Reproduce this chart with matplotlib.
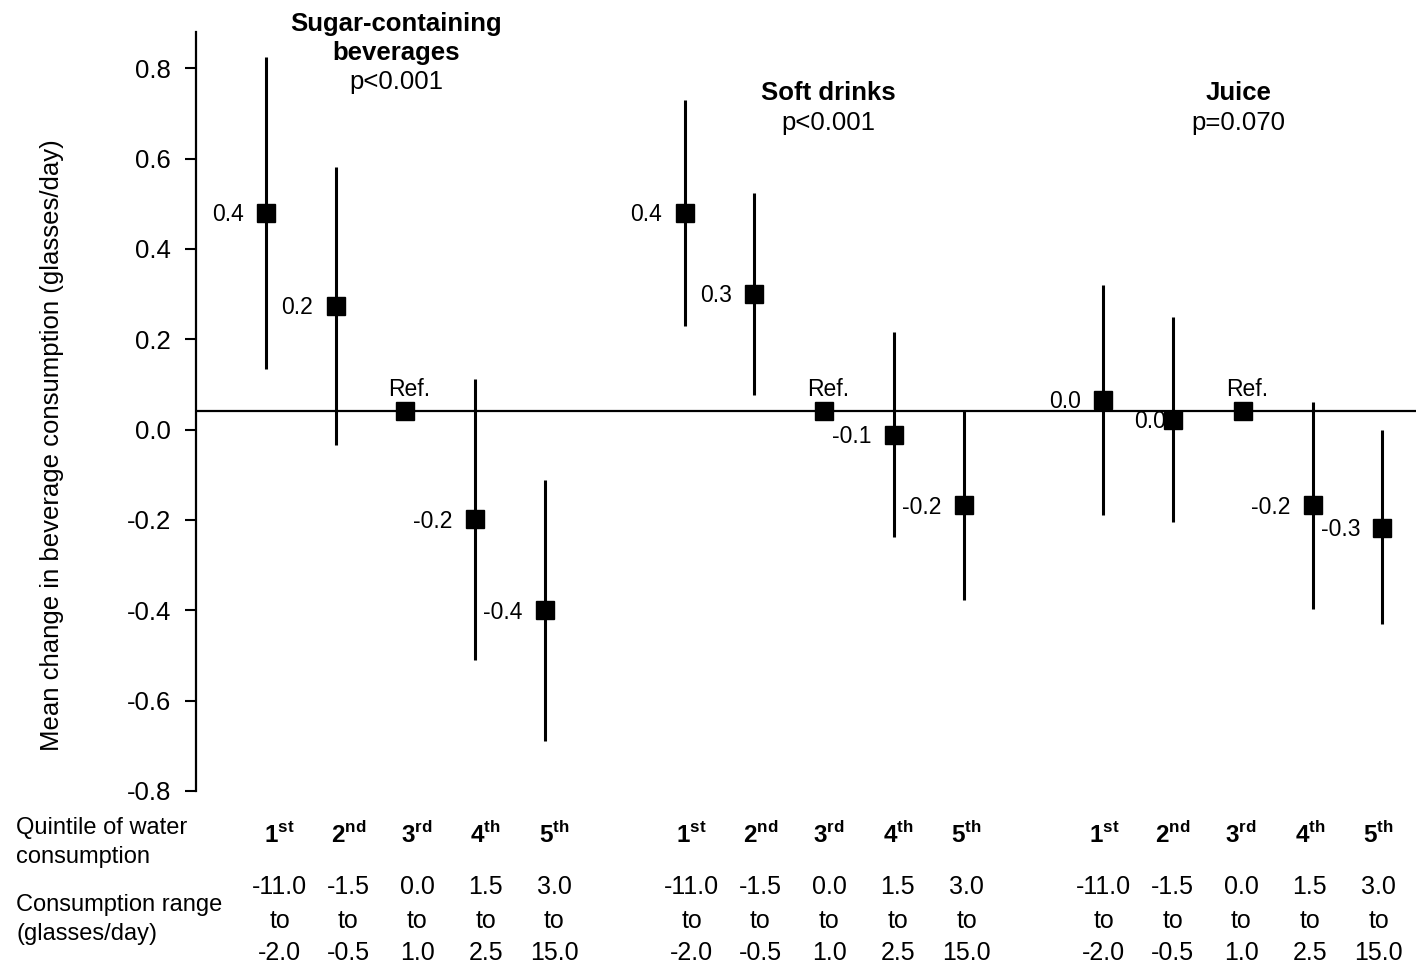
import numpy as np
import matplotlib.pyplot as plt

plt.rcParams['font.family'] = ['Liberation Sans', 'DejaVu Sans']
plt.rcParams['mathtext.fontset'] = 'custom'
plt.rcParams['mathtext.rm'] = 'Liberation Sans'
plt.rcParams['mathtext.bf'] = 'Liberation Sans:bold'

# groups of quintiles
groups = [['Sugar-containing', 'beverages'], ['Soft drinks'], ['Juice']]
pvals = ['p<0.001', 'p<0.001', 'p=0.070']

# plotted positions, ref quintile = 3rd
means = [[0.480, 0.274, 0.042, -0.199, -0.400],
         [0.480, 0.301, 0.042, -0.011, -0.168],
         [0.066, 0.022, 0.042, -0.168, -0.217]]
upper = [[0.825, 0.582, None, 0.113, -0.111],
         [0.730, 0.524, None, 0.215, 0.042],
         [0.321, 0.250, None, 0.062, -0.002]]
lower = [[0.135, -0.035, None, -0.511, -0.690],
         [0.230, 0.077, None, -0.237, -0.378],
         [-0.190, -0.204, None, -0.398, -0.431]]
labels = [['0.4', '0.2', 'Ref.', '-0.2', '-0.4'],
          ['0.4', '0.3', 'Ref.', '-0.1', '-0.2'],
          ['0.0', '0.0', 'Ref.', '-0.2', '-0.3']]
ref_line = 0.042

quintiles = [('1', 'st'), ('2', 'nd'), ('3', 'rd'), ('4', 'th'), ('5', 'th')]
range_lo = ['-11.0', '-1.5', '0.0', '1.5', '3.0']
range_hi = ['-2.0', '-0.5', '1.0', '2.5', '15.0']

W, H = 1416, 964
fig = plt.figure(figsize=(W / 100, H / 100), dpi=100)
ax = fig.add_axes([196 / W, 1 - 791 / H, 1 - 196 / W, (791 - 32) / H])
ax.set_xlim(-1, 16.48)
ax.set_ylim(-0.8, 0.88)


def fy(py):
    # figure pixel row -> figure fraction (small nudge for glyph centring)
    return 1 - (py + 2) / H


for g in range(3):
    xs = np.arange(5) + 6 * g
    for i in range(5):
        x = xs[i]
        m = means[g][i]
        if upper[g][i] is not None:
            ax.plot([x, x], [lower[g][i], upper[g][i]], color='black', lw=2.2,
                    solid_capstyle='butt', zorder=2)
            dx = 0.1 if (g == 2 and i == 1) else 0.32
            ax.text(x - dx, m - 0.004, labels[g][i], ha='right', va='center', fontsize=16.5,
                    zorder=4)
        else:
            ax.text(x + 0.06, m + 0.022, labels[g][i], ha='center', va='bottom', fontsize=16.5)
        ax.plot(x, m, 's', color='black', markersize=12.5, zorder=3)

    # table below the axis
    for i in range(5):
        k = i + 6 * g
        lx = ax.transData.transform((0.2 + 0.984 * k, 0))[0] / W
        fig.text(lx, fy(833), r'$\mathbf{%s}^{\mathbf{%s}}$' % quintiles[i],
                 ha='center', va='center', fontsize=17.5)
        fig.text(lx, fy(885), range_lo[i], ha='center', va='center', fontsize=18)
        fig.text(lx, fy(919), 'to', ha='center', va='center', fontsize=18)
        fig.text(lx, fy(951), range_hi[i], ha='center', va='center', fontsize=18)

# group headings
fig.text(396 / W, fy(22), groups[0][0], ha='center', va='center', fontsize=18.5, fontweight='bold')
fig.text(396 / W, fy(51), groups[0][1], ha='center', va='center', fontsize=18.5, fontweight='bold')
fig.text(396 / W, fy(80), pvals[0], ha='center', va='center', fontsize=18.5)
fig.text(828 / W, fy(91), groups[1][0], ha='center', va='center', fontsize=18.5, fontweight='bold')
fig.text(828 / W, fy(121), pvals[1], ha='center', va='center', fontsize=18.5)
fig.text(1238 / W, fy(91), groups[2][0], ha='center', va='center', fontsize=18.5, fontweight='bold')
fig.text(1238 / W, fy(121), pvals[2], ha='center', va='center', fontsize=18.5)

ax.axhline(ref_line, color='black', lw=1.6, zorder=1)

fig.text(16 / W, fy(826), 'Quintile of water', ha='left', va='center', fontsize=17)
fig.text(16 / W, fy(855), 'consumption', ha='left', va='center', fontsize=17)
fig.text(16 / W, fy(903), 'Consumption range', ha='left', va='center', fontsize=17)
fig.text(16 / W, fy(932), '(glasses/day)', ha='left', va='center', fontsize=17)
fig.text(52 / W, 1 - 445 / H, 'Mean change in beverage consumption (glasses/day)',
         ha='center', va='center', rotation=90, fontsize=18.5)

ticks = np.round(np.arange(-0.8, 0.81, 0.2), 1)
ax.set_yticks(ticks)
ax.set_yticklabels(['%.1f' % (v + 0.0) for v in ticks], fontsize=18.5)
ax.tick_params(axis='y', direction='out', length=8, width=1.5, pad=10)
ax.set_xticks([])
for s in ['top', 'right', 'bottom']:
    ax.spines[s].set_visible(False)
ax.spines['left'].set_linewidth(1.6)

fig.savefig('out.png', dpi=100)
